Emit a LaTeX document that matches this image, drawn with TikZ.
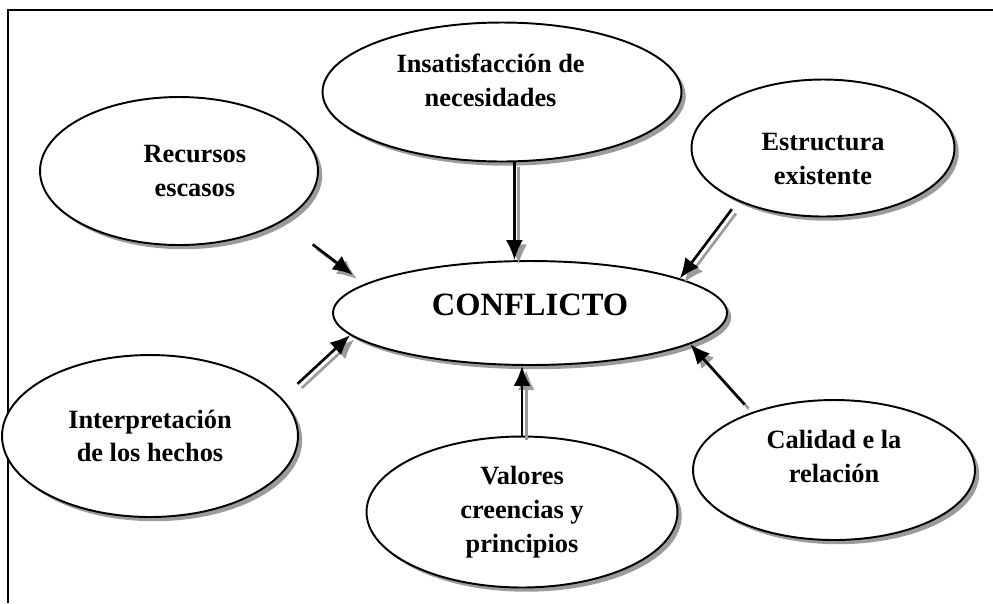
\documentclass[tikz,border=0pt]{standalone}
\usepackage{fontspec}
\setmainfont{Liberation Serif}
\usetikzlibrary{arrows.meta, shapes.geometric, shadows, calc}
\definecolor{shadowGray}{RGB}{155,155,155}
\definecolor{lineMain}{RGB}{0,0,0}
\tikzset{
  causeNode/.style={
    ellipse,
    draw=lineMain,
    line width=1.1pt,
    fill=white,
    align=center,
    inner sep=0pt,
    font=\fontsize{15}{19.3}\selectfont\bfseries,
    drop shadow={shadow xshift=2.4pt, shadow yshift=-2.4pt, opacity=1, fill=shadowGray}
  },
  conflictNode/.style={causeNode, font=\fontsize{18.5}{22}\selectfont\bfseries},
  causeFlow/.style={
    -{Latex[length=4mm,width=3.4mm]}, line width=1.5pt, draw=lineMain,
    preaction={draw=shadowGray, -{Latex[length=4mm,width=3.4mm]}, line width=1.5pt,
      transform canvas={shift={(2.4pt,-2.4pt)}}}
  }
}

\begin{document}
\begin{tikzpicture}[x=0.02cm, y=-0.02cm]
  \useasboundingbox (0,0) rectangle (993,603);
  \draw[line width=1.3pt] (8,603) -- (8,10) -- (993,10);

  \node[conflictNode, minimum width=7.88cm, minimum height=2.08cm] (conf) at (530,313) {CONFLICTO\\[-13pt]\mbox{}};
  \node[causeNode, minimum width=7.18cm, minimum height=2.78cm] (ins) at (502,92) {Insatisfacción de\kern13pt\mbox{}\\necesidades\kern13pt\mbox{}\\[-5.7pt]\mbox{}};
  \node[causeNode, minimum width=5.56cm, minimum height=2.96cm] (rec) at (179,171) {\mbox{}\kern18pt Recursos\\\mbox{}\kern18pt escasos};
  \node[causeNode, minimum width=5.26cm, minimum height=2.74cm] (est) at (823,148) {\mbox{}\\[3.4pt]Estructura\\existente};
  \node[causeNode, minimum width=5.92cm, minimum height=3.24cm] (int) at (150,436) {Interpretación\\de los hechos};
  \node[causeNode, minimum width=6.22cm, minimum height=3.02cm] (val) at (522,512) {Valores\\creencias y\\principios};
  \node[causeNode, minimum width=5.64cm, minimum height=2.80cm] (cal) at (834,470) {Calidad e la\\relación\\[-4pt]\mbox{}};

  \draw[causeFlow, shorten <=0.76cm, shorten >=0.3cm] (rec.-26) -- (conf.170);
  \draw[causeFlow] (ins.-80) -- (ins.-80 |- conf.north);
  \draw[causeFlow, shorten <=0.2cm] (est.212) -- (conf.13.4);
  \draw[causeFlow, shorten <=0.42cm] (int.16) -- (conf.187);
  \draw[causeFlow] (val.north) -- (val.north |- conf.south);
  \draw[causeFlow, shorten <=0.21cm] (cal.145) -- (conf.-11);
\end{tikzpicture}
\end{document}
